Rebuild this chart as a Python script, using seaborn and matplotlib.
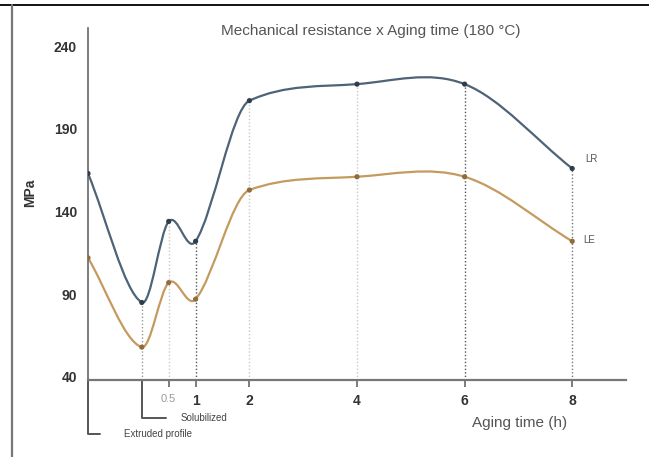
import numpy as np
import pandas as pd
import matplotlib
matplotlib.use("Agg")
import matplotlib.pyplot as plt
import seaborn as sns
from matplotlib.path import Path
from matplotlib.patches import PathPatch
from matplotlib.lines import Line2D

# data: x in hours of aging (extruded profile placed one step left of solubilized)
hours = [-1, 0, 0.5, 1, 2, 4, 6, 8]
lr_mpa = [163, 85, 134, 122, 207, 217, 217, 166]
le_mpa = [112, 58, 97, 87, 153, 161, 161, 122]
tick_hours = [0.5, 1, 2, 4, 6, 8]
tick_labels = ["0.5", "1", "2", "4", "6", "8"]
y_ticks = [40, 90, 140, 190, 240]

sns.set_theme(style="white")
plt.rcParams["font.family"] = ["Liberation Sans", "DejaVu Sans"]

LR_COLOR = "#4d6378"
LE_COLOR = "#c49a5f"

df = pd.DataFrame({"hours": hours * 2,
                   "mpa": lr_mpa + le_mpa,
                   "series": ["LR"] * len(hours) + ["LE"] * len(hours)})

fig = plt.figure(figsize=(6.49, 4.57), dpi=100)
ax = fig.add_axes([88 / 649, 0.168, 538 / 649, 0.771])


def smooth_path(xs, ys):
    """Cubic Hermite curve through the points, as Bezier path segments.
    Tangents are central differences, limited where the data is locally
    monotone so the curve does not overshoot there."""
    xs = np.asarray(xs, float)
    ys = np.asarray(ys, float)
    n = len(xs)
    sec = np.diff(ys) / np.diff(xs)
    m = np.zeros(n)
    m[0], m[-1] = sec[0], sec[-1]
    for i in range(1, n - 1):
        m[i] = (ys[i + 1] - ys[i - 1]) / (xs[i + 1] - xs[i - 1])
        a, b = sec[i - 1], sec[i]
        if a * b > 0:
            lim = 3 * min(abs(a), abs(b))
            m[i] = np.clip(m[i], -lim, lim)
    verts = [(xs[0], ys[0])]
    codes = [Path.MOVETO]
    for i in range(n - 1):
        h = xs[i + 1] - xs[i]
        verts += [(xs[i] + h / 3, ys[i] + m[i] * h / 3),
                  (xs[i + 1] - h / 3, ys[i + 1] - m[i + 1] * h / 3),
                  (xs[i + 1], ys[i + 1])]
        codes += [Path.CURVE4] * 3
    return Path(verts, codes)


# drop lines from the upper curve to the axis
drop_colors = ["#9a9a9a", "#c8c8c8", "#555555", "#c8c8c8",
               "#c8c8c8", "#555555", "#777777"]
ax.vlines(hours[1:], 38, lr_mpa[1:], colors=drop_colors,
          linestyles=(0, (1, 1.5)), linewidth=1.0, zorder=1)

for vals, col in [(lr_mpa, LR_COLOR), (le_mpa, LE_COLOR)]:
    ax.add_patch(PathPatch(smooth_path(hours, vals), fill=False,
                           edgecolor=col, linewidth=1.6, zorder=2))

sns.scatterplot(data=df, x="hours", y="mpa", hue="series",
                palette={"LR": "#2e3d4c", "LE": "#8f6c3c"},
                s=14, edgecolor="none", legend=False, zorder=3, ax=ax)

ax.text(8.25, lr_mpa[-1] + 6, "LR", fontsize=7, color="#555555",
        va="center")
ax.text(8.2, le_mpa[-1] + 1, "LE", fontsize=7, color="#555555",
        va="center")

ax.set_xlim(-1, 9)
ax.set_ylim(38, 251)
sns.despine(ax=ax, top=True, right=True)
ax.spines["left"].set_color("#666666")
ax.spines["left"].set_linewidth(1.2)
ax.spines["bottom"].set_color("#777777")
ax.spines["bottom"].set_linewidth(1.6)

ax.set_yticks(y_ticks)
ax.set_yticklabels([str(v) for v in y_ticks], fontsize=10,
                   fontweight="bold", color="#333333")
ax.tick_params(axis="y", length=0, pad=8)
ax.set_xticks(tick_hours)
ax.set_xticklabels(tick_labels, fontsize=10, fontweight="bold",
                   color="#333333")
ax.tick_params(axis="x", length=5, width=1.2, color="#666666",
               direction="out", bottom=True, pad=5)
lbl = ax.get_xticklabels()[0]
lbl.set_fontweight("normal")
lbl.set_fontsize(8)
lbl.set_color("#999999")
ax.set_xlabel("")
ax.set_ylabel("")

# category brackets under the axis
tr = ax.get_xaxis_transform()
ax.plot([-1, -1, -0.78], [0, -0.152, -0.152], color="#555555", lw=1.4,
        transform=tr, clip_on=False)
ax.plot([0, 0, 0.45], [0, -0.107, -0.107], color="#555555", lw=1.4,
        transform=tr, clip_on=False)
ax.text(-0.33, -0.152, "Extruded profile", fontsize=7, color="#444444",
        va="center", transform=tr)
ax.text(0.72, -0.107, "Solubilized", fontsize=7, color="#444444",
        va="center", transform=tr)

fig.text(520 / 649, 1 - 423 / 457, "Aging time (h)", fontsize=11,
         color="#555555", ha="center", va="center")
fig.text(30 / 649, 1 - 193 / 457, "MPa", fontsize=10, fontweight="bold",
         color="#333333", rotation=90, ha="center", va="center")
fig.text(371 / 649, 1 - 31 / 457,
         "Mechanical resistance x Aging time (180 °C)", fontsize=11,
         color="#555555", ha="center", va="center")

# frame of the screenshot
fig.add_artist(Line2D([0, 1], [1 - 5 / 457] * 2, color="black", lw=1.3,
                      transform=fig.transFigure))
fig.add_artist(Line2D([12 / 649] * 2, [0, 1 - 5 / 457], color="#777777",
                      lw=1.6, transform=fig.transFigure))

fig.savefig("out.png", dpi=100)
